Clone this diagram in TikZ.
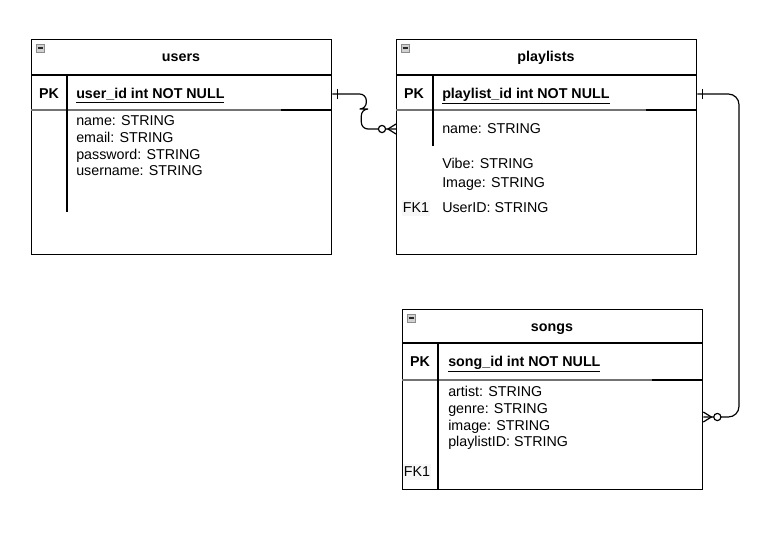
\documentclass[tikz,border=0pt]{standalone}
\usepackage{fontspec}
\setmainfont{Liberation Sans}
\usetikzlibrary{calc}

% crow's-foot ends: #1 = point on the entity edge, #2 = +1 (line leaves to the right) or -1 (to the left)
\newcommand{\erOne}[2]{%
  \draw[conn] ($(#1)+(#2*5,-5)$) -- ($(#1)+(#2*5,5)$);}
\newcommand{\erZeroMany}[2]{%
  \draw[conn] ($(#1)+(0,-5)$) -- ($(#1)+(#2*8,0)$) -- ($(#1)+(0,5)$);
  \draw[conn, fill=white] ($(#1)+(#2*14,0)$) circle[radius=3.6];}
% small collapse icon in a table header
\newcommand{\collapseIcon}[2]{%
  \draw[draw=black!45, fill=black!18, line width=0.5pt] (#1,#2) rectangle ++(8,8);
  \draw[black!85, line width=1pt] (#1+1.5,#2+4) -- ++(5,0);}

\begin{document}
\begin{tikzpicture}[x=0.75pt, y=-0.75pt,
  every node/.style={font=\fontsize{10.7}{12.8}\selectfont, inner sep=0pt,
    text height=8.6pt, text depth=2pt},
  tbl/.style={draw, line width=1pt, rectangle, anchor=north west, minimum width=225pt,
    text height=, text depth=},
  rule/.style={line width=1pt},
  softrule/.style={line width=1pt, black!55},
  title/.style={font=\fontsize{10.7}{12.8}\selectfont\bfseries},
  keytag/.style={font=\fontsize{10.7}{12.8}\selectfont\bfseries},
  keyfield/.style={anchor=west, font=\fontsize{10.7}{12.8}\selectfont\bfseries,
    text height=9.2pt, text depth=2.6pt},
  field/.style={anchor=west},
  fktag/.style={fill=black!3, inner sep=1pt},
  conn/.style={line width=0.9pt, black}]

\useasboundingbox (0,0) rectangle (775,536);

% ---------- users ----------
\node[tbl, minimum height=161.25pt] (users) at (31,39) {};
\draw[rule] (31,75) -- (331,75);
\draw[softrule] (31,110) -- (281,110);
\draw[rule] (281,110) -- (331,110);
\draw[rule] (67,75) -- (67,212);
\collapseIcon{36}{44}
\node[title] (usersT) at (181,57) {users};
\node[keytag] (usersPK) at (49,94) {PK};
\node[keyfield] (uid) at (76,94) {\underline{user\_id int NOT NULL}};
\node[field] (uname) at (76,121) {name: STRING};
\node[field] (uemail) at (76,138) {email: STRING};
\node[field] (upass) at (76,155) {password: STRING};
\node[field] (uuser) at (76,171) {username: STRING};

% ---------- playlists ----------
\node[tbl, minimum height=161.25pt] (plist) at (396,39) {};
\draw[rule] (396,75) -- (696,75);
\draw[softrule] (396,110) -- (646,110);
\draw[rule] (646,110) -- (696,110);
\draw[rule] (433,75) -- (433,146);
\collapseIcon{401}{44}
\node[title] (plistT) at (546,57) {playlists};
\node[keytag] (plistPK) at (414,94) {PK};
\node[keyfield] (pid) at (442,94) {\underline{playlist\_id int NOT NULL}};
\node[field] (pname) at (442,129) {name: STRING};
\node[field] (pvibe) at (442,164) {Vibe: STRING};
\node[field] (pimage) at (442,183) {Image: STRING};
\node[field] (puser) at (442,208) {UserID: STRING};
\node[fktag] (plistFK) at (416,208) {FK1};

% ---------- songs ----------
\node[tbl, minimum height=135pt] (songs) at (402,309) {};
\draw[rule] (402,343) -- (702,343);
\draw[softrule] (402,380) -- (652,380);
\draw[rule] (652,380) -- (702,380);
\draw[rule] (438,343) -- (438,489);
\collapseIcon{407}{314}
\node[title] (songsT) at (552,327) {songs};
\node[keytag] (songsPK) at (420,362) {PK};
\node[keyfield] (sid) at (448,362) {\underline{song\_id int NOT NULL}};
\node[field] (sartist) at (448,392) {artist: STRING};
\node[field] (sgenre) at (448,409) {genre: STRING};
\node[field] (simage) at (448,426) {image: STRING};
\node[field] (splist) at (448,442) {playlistID: STRING};
\node[fktag] (songsFK) at (417,472) {FK1};

% ---------- relationships ----------
\coordinate (uOut) at (users.east |- uid);
\coordinate (pIn) at (plist.west |- pname);
\coordinate (pOut) at (plist.east |- pid);
\coordinate (sIn) at (songs.east |- 0,417);
\coordinate (bendR) at (739,0);

% users 1 -- 0..* playlists
\draw[conn, rounded corners=5] (uOut) -- ++(34,0) -- ++(0,15) -- ++(-5,0) -- ++(0,20) -- (pIn);
\erOne{uOut}{1}
\erZeroMany{pIn}{-1}

% playlists 1 -- 0..* songs
\draw[conn, rounded corners=8] (pOut) -| (bendR |- sIn) -- (sIn);
\erOne{pOut}{1}
\erZeroMany{sIn}{1}

\end{tikzpicture}
\end{document}
